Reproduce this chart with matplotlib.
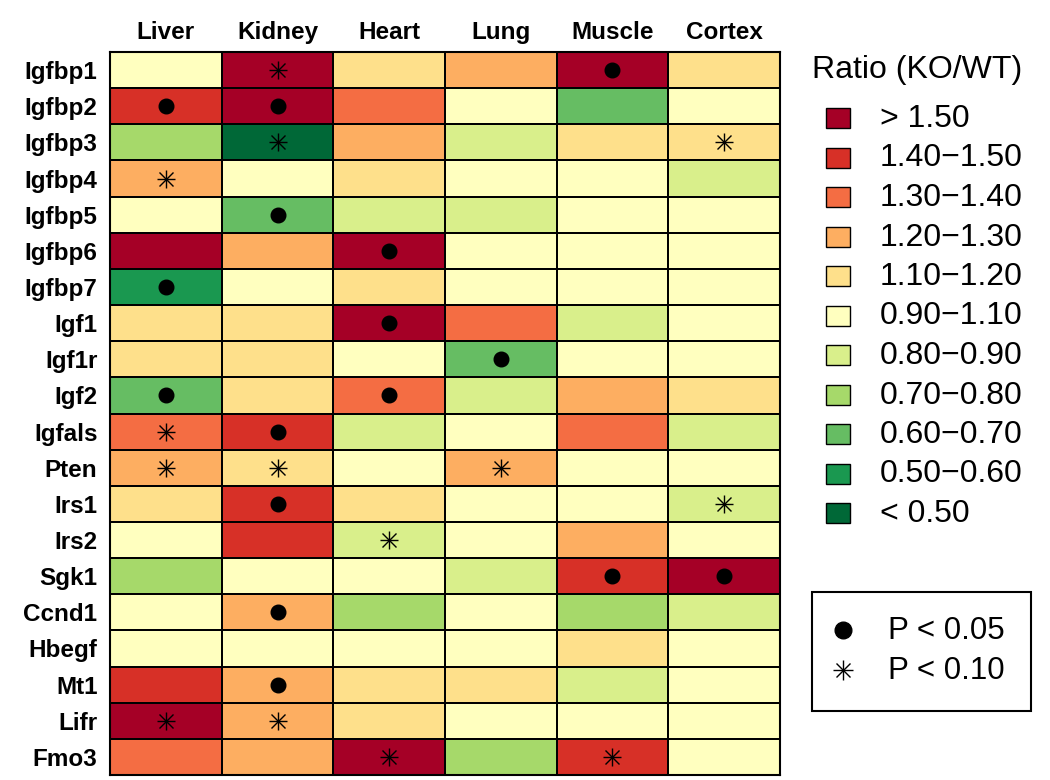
import numpy as np
import matplotlib
matplotlib.use("Agg")
import matplotlib.pyplot as plt
from matplotlib.colors import ListedColormap, BoundaryNorm
from matplotlib.patches import Rectangle

plt.rcParams['font.family'] = ['Liberation Sans', 'DejaVu Sans']

tissues = ["Liver", "Kidney", "Heart", "Lung", "Muscle", "Cortex"]
genes = ["Igfbp1", "Igfbp2", "Igfbp3", "Igfbp4", "Igfbp5", "Igfbp6", "Igfbp7",
         "Igf1", "Igf1r", "Igf2", "Igfals", "Pten", "Irs1", "Irs2", "Sgk1",
         "Ccnd1", "Hbegf", "Mt1", "Lifr", "Fmo3"]

# ratio class (0 = "< 0.50" ... 10 = "> 1.50")
ratio_class = [
    [5, 10, 6, 7, 10, 6],
    [9, 10, 8, 5, 2, 5],
    [3, 0, 7, 4, 6, 6],
    [7, 5, 6, 5, 5, 4],
    [5, 2, 4, 4, 5, 5],
    [10, 7, 10, 5, 5, 5],
    [1, 5, 6, 5, 5, 5],
    [6, 6, 10, 8, 4, 5],
    [6, 6, 5, 2, 5, 5],
    [2, 6, 8, 4, 7, 6],
    [8, 9, 4, 5, 8, 4],
    [7, 6, 5, 7, 5, 5],
    [6, 9, 6, 5, 5, 4],
    [5, 9, 4, 5, 7, 5],
    [3, 5, 5, 4, 9, 10],
    [5, 7, 3, 5, 3, 4],
    [5, 5, 5, 5, 6, 5],
    [9, 7, 6, 6, 4, 5],
    [10, 7, 6, 5, 5, 5],
    [8, 7, 10, 3, 9, 5],
]

# significance: 'o' = P < 0.05, '*' = P < 0.10
signif = [
    ["", "*", "", "", "o", ""],
    ["o", "o", "", "", "", ""],
    ["", "*", "", "", "", "*"],
    ["*", "", "", "", "", ""],
    ["", "o", "", "", "", ""],
    ["", "", "o", "", "", ""],
    ["o", "", "", "", "", ""],
    ["", "", "o", "", "", ""],
    ["", "", "", "o", "", ""],
    ["o", "", "o", "", "", ""],
    ["*", "o", "", "", "", ""],
    ["*", "*", "", "*", "", ""],
    ["", "o", "", "", "", "*"],
    ["", "", "*", "", "", ""],
    ["", "", "", "", "o", "o"],
    ["", "o", "", "", "", ""],
    ["", "", "", "", "", ""],
    ["", "o", "", "", "", ""],
    ["*", "*", "", "", "", ""],
    ["", "", "*", "", "*", ""],
]

class_labels = ["< 0.50", "0.50\u22120.60", "0.60\u22120.70", "0.70\u22120.80",
                "0.80\u22120.90", "0.90\u22121.10", "1.10\u22121.20", "1.20\u22121.30",
                "1.30\u22121.40", "1.40\u22121.50", "> 1.50"]
class_colors = ['#006837', '#1a9850', '#66bd63', '#a6d96a', '#d9ef8b', '#ffffbf',
                '#fee08b', '#fdae61', '#f46d43', '#d73027', '#a50026']

W, H = 1050, 780
fig = plt.figure(figsize=(W / 100, H / 100), dpi=100)

gl, gr, gt, gb = 110, 780, 52, 775
ax = fig.add_axes([gl / W, 1 - gb / H, (gr - gl) / W, (gb - gt) / H])

cmap = ListedColormap(class_colors)
norm = BoundaryNorm(np.arange(-0.5, 11.5, 1), cmap.N)
data = np.array(ratio_class)
nr, nc = data.shape
ax.pcolormesh(np.arange(nc + 1), np.arange(nr + 1), data, cmap=cmap, norm=norm,
              edgecolors='black', linewidth=1.2)
ax.set_xlim(0, nc)
ax.set_ylim(nr, 0)


def star(a, x, y, s=13.5, lw=1.0):
    a.plot(x, y, marker='+', color='black', markersize=s, markeredgewidth=lw, linestyle='none')
    a.plot(x, y, marker='x', color='black', markersize=s * 0.7, markeredgewidth=lw, linestyle='none')


for i in range(nr):
    for j in range(nc):
        s = signif[i][j]
        if s == "o":
            ax.plot(j + 0.5, i + 0.5, marker='o', color='black', markersize=10.5, linestyle='none')
        elif s == "*":
            star(ax, j + 0.5, i + 0.5)

ax.set_xticks(np.arange(nc) + 0.5)
ax.set_xticklabels(tissues, fontsize=17.5, fontweight='bold')
ax.xaxis.tick_top()
ax.set_yticks(np.arange(nr) + 0.5)
ax.set_yticklabels(genes, fontsize=17.5, fontweight='bold')
ax.tick_params(length=0)
ax.tick_params(axis='y', pad=9)
ax.tick_params(axis='x', pad=6)
for sp in ax.spines.values():
    sp.set_linewidth(1.5)

# legend overlay in pixel coordinates
lax = fig.add_axes([0, 0, 1, 1])
lax.set_xlim(0, W)
lax.set_ylim(H, 0)
lax.axis('off')

lax.text(812, 70, "Ratio (KO/WT)", fontsize=23, va='center', ha='left')
y0, dy = 118, 39.5
for k in range(11):
    idx = 10 - k
    y = y0 + k * dy
    lax.add_patch(Rectangle((826, y - 10), 24, 20, facecolor=class_colors[idx],
                            edgecolor='black', linewidth=1))
    lax.text(880, y + 1, class_labels[idx], fontsize=23, va='center', ha='left')

lax.add_patch(Rectangle((812, 592), 219, 119, facecolor='none', edgecolor='black', linewidth=1.5))
lax.plot(843, 630, marker='o', color='black', markersize=12, linestyle='none')
star(lax, 843, 670, s=15, lw=1.0)
lax.text(888, 631, "P < 0.05", fontsize=22.5, va='center', ha='left')
lax.text(888, 671, "P < 0.10", fontsize=22.5, va='center', ha='left')

fig.savefig("out.png", dpi=100)
